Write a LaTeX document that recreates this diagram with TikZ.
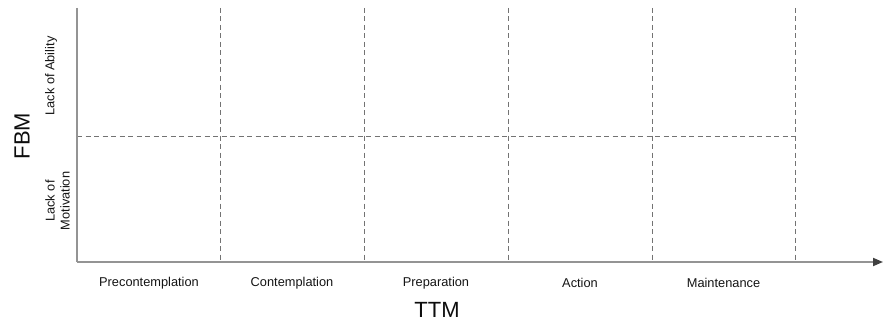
\documentclass[tikz,border=0pt]{standalone}
\usepackage{fontspec}
\setmainfont{Liberation Sans}
\usetikzlibrary{arrows.meta}
\begin{document}
\begin{tikzpicture}[x=1pt,y=-1pt,
  axis/.style={draw=black!42,line width=1.8pt},
  grid/.style={draw=black!55,line width=1pt,dash pattern=on 5pt off 3.5pt},
  stage/.style={font=\fontsize{12.8pt}{15pt}\selectfont,text=black!92,inner sep=0pt},
  side/.style={font=\fontsize{12.8pt}{15pt}\selectfont,text=black!92,rotate=90,align=center,inner sep=0pt},
  title/.style={font=\fontsize{22pt}{26pt}\selectfont,text=black!95,inner sep=0pt}]
\useasboundingbox (0,0) rectangle (883,321);
% corners of the grid
\coordinate (o) at (77,262);
\coordinate (top) at (77,8);
\coordinate (xend) at (883,262);
\coordinate (hl) at (77,136);
\coordinate (hr) at (795,136);
% stage boundaries
\foreach \i/\x in {1/220,2/364,3/508,4/652,5/795}{
  \coordinate (t\i) at (\x,8);
  \coordinate (b\i) at (\x,262);
  \draw[grid] (t\i) -- (b\i);
}
\draw[grid] (hl) -- (hr);
% axes
\draw[axis] (top) -- (o);
\draw[axis,-{Triangle[length=10pt,width=8pt,color=black!75]}] (o) -- (xend);
% stage labels
\node[stage] (s1) at (149,283) {Precontemplation};
\node[stage] (s2) at (292,283) {Contemplation};
\node[stage] (s3) at (436,283) {Preparation};
\node[stage] (s4) at (580,283) {Action};
\node[stage] (s5) at (723.5,283) {Maintenance};
\node[title] (ttm) at (437,309.5) {TTM};
% vertical axis labels
\node[title,rotate=90] (fbm) at (22,136) {FBM};
\node[side] (ab) at (51,76) {Lack of Ability};
\node[side] (mo) at (57.5,201) {Lack of\\Motivation};
\end{tikzpicture}
\end{document}
